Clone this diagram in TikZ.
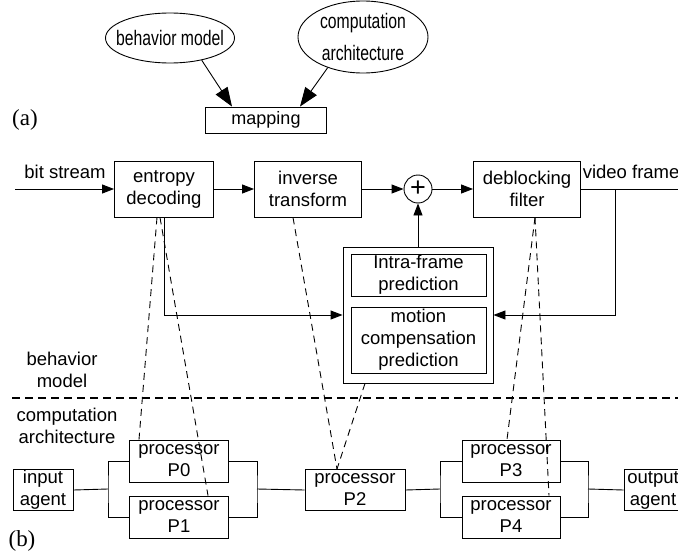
\documentclass[tikz,border=0pt]{standalone}
\usepackage{fontspec}
\setmainfont{Liberation Sans}
\newfontfamily\labfont{Liberation Serif}
\newfontfamily\narrowfont[FakeStretch=0.75]{Liberation Sans}
\usetikzlibrary{shapes.geometric}
\usetikzlibrary{arrows.meta}

\begin{document}
\begin{tikzpicture}[x=1pt, y=-1pt, line width=0.9pt,
	every node/.style={font=\fontsize{18.5}{22}\selectfont, align=center},
	narrow/.style={font=\narrowfont\fontsize{21}{23}\selectfont},
	box/.style={draw, rectangle, inner sep=0pt},
	oval/.style={draw, ellipse, inner sep=0pt},
	tag/.style={font=\labfont\fontsize{23}{24}\selectfont},
	arr/.style={-{Triangle[length=12pt, width=9pt]}},
	bigarr/.style={-{Triangle[length=19pt, width=14pt]}},
	map/.style={dash pattern=on 7pt off 5pt}]
	\useasboundingbox (0,0) rectangle (678,554);
	\clip (0,0) rectangle (678,554);
	
	% (a)
	\node[oval, minimum width=129pt, minimum height=50pt, label={[narrow]center:behavior model}] (bm) at (170,38) {};
	\node[oval, minimum width=130pt, minimum height=72pt, label={[narrow]center:{computation\\[9pt]architecture}}] (ca) at (363,37) {};
	\node[box, minimum width=121pt, minimum height=26pt, font=\fontsize{18}{20}\selectfont] (map) at (266,120) {mapping};
	\node[tag] (la) at (25,120) {(a)};
	\draw[bigarr] (bm.-35) -- ([xshift=-34pt]map.north);
	\draw[bigarr] (ca.-139) -- ([xshift=34pt]map.north);
	
	% (b) behavior model
	\coordinate (in) at (15,189);
	\coordinate (out) at (690,189);
	\coordinate (br) at (615,189);
	\node (bs) at (65,172) {bit stream};
	\node[box, minimum width=99pt, minimum height=56pt] (ent) at (164,189) {entropy\\decoding};
	\node[box, minimum width=107pt, minimum height=56pt] (inv) at (308,189) {inverse\\transform};
	\node[draw, circle, minimum size=28pt, inner sep=0pt] (sum) at (418,189) {\fontsize{27}{27}\selectfont +};
	\node[box, minimum width=107pt, minimum height=56pt] (dbf) at (527,189) {deblocking\\filter};
	\node[anchor=west] (vf) at (579,172) {video frame};
	\node[box, minimum width=150pt, minimum height=136pt] (pred) at (418,315) {};
	\node[box, minimum width=135pt, minimum height=42pt] (intra) at (418.5,275) {Intra-frame\\prediction};
	\node[box, minimum width=135pt, minimum height=66pt] (mc) at (418.5,340) {motion\\compensation\\prediction};
	
	\draw[arr] (in) -- (ent);
	\draw[arr] (ent) -- (inv);
	\draw[arr] (inv) -- (sum);
	\draw[arr] (sum) -- (dbf);
	\draw[arr] (dbf) -- (out);
	\draw[arr] (pred) -- (sum);
	\draw[arr] (ent.south) |- (pred.west);
	\draw[arr] (br) |- (pred.east);
	
	% separator
	\coordinate (sepl) at (12,398);
	\coordinate (sepr) at (690,398);
	\draw[line width=1.4pt, dash pattern=on 8pt off 5pt] (sepl) -- (sepr);
	\node (bmod) at (62,370) {behavior\\model};
	\node (carch) at (67,426) {computation\\architecture};
	
	% (b) computation architecture
	\node[box, minimum width=60pt, minimum height=41pt] (ia) at (43,490) {input\\agent};
	\node[box, minimum width=99pt, minimum height=42pt] (p0) at (179,461) {processor\\P0};
	\node[box, minimum width=99pt, minimum height=42pt] (p1) at (179,517) {processor\\P1};
	\node[box, minimum width=100pt, minimum height=41pt] (p2) at (355,490) {processor\\P2};
	\node[box, minimum width=98pt, minimum height=42pt] (p3) at (511,461) {processor\\P3};
	\node[box, minimum width=98pt, minimum height=42pt] (p4) at (511,517) {processor\\P4};
	\node[box, minimum width=58pt, minimum height=41pt] (oa) at (653,490) {output\\agent};
	\node[tag] (lb) at (22,541) {(b)};
	
	\coordinate (j1) at (108,489);
	\coordinate (j2) at (257,489);
	\coordinate (j3) at (440,489);
	\coordinate (j4) at (588,489);
	\draw (ia.east) -- (j1);
	\draw (p0.west) -| (j1) |- (p1.west);
	\draw (p0.east) -| (j2) |- (p1.east);
	\draw (j2) -- (p2.west);
	\draw (p2.east) -- (j3);
	\draw (p3.west) -| (j3) |- (p4.west);
	\draw (p3.east) -| (j4) |- (p4.east);
	\draw (j4) -- (oa.west);
	
	% mapping
	\draw[map] ([xshift=-7pt]ent.south) -- ([xshift=-40pt]p0.north);
	\draw[map] ([xshift=-4pt]ent.south) -- ([xshift=29pt]p1.north);
	\draw[map] ([xshift=-15pt]inv.south) -- ([xshift=-18pt]p2.north);
	\draw[map] ([xshift=-53pt]pred.south) -- ([xshift=-18pt]p2.north);
	\draw[map] ([xshift=8pt]dbf.south) -- ([xshift=-4pt]p3.north);
	\draw[map] ([xshift=8pt]dbf.south) -- ([xshift=38pt]p4.north);
\end{tikzpicture}
\end{document}
